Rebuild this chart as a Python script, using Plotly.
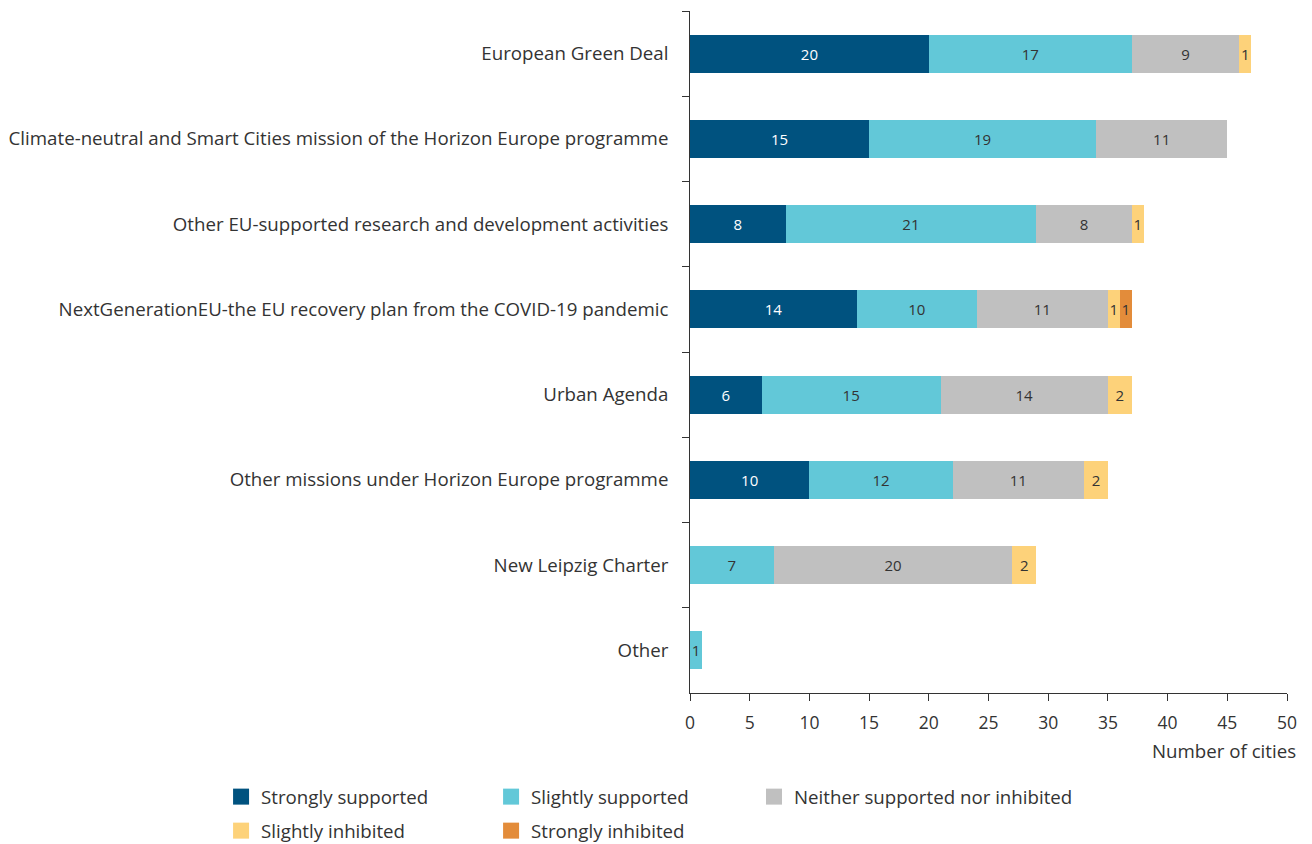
import plotly.graph_objects as go

categories = [
    "European Green Deal",
    "Climate-neutral and Smart Cities mission of the Horizon Europe programme",
    "Other EU-supported research and development activities",
    "NextGenerationEU-the EU recovery plan from the COVID-19 pandemic",
    "Urban Agenda",
    "Other missions under Horizon Europe programme",
    "New Leipzig Charter",
    "Other",
]
strongly_supported = [20, 15, 8, 14, 6, 10, None, None]
slightly_supported = [17, 19, 21, 10, 15, 12, 7, 1]
neither = [9, 11, 8, 11, 14, 11, 20, None]
slightly_inhibited = [1, None, 1, 1, 2, 2, 2, None]
strongly_inhibited = [None, None, None, 1, None, None, None, None]

series = [
    ("Strongly supported", strongly_supported, "#00527f", "white"),
    ("Slightly supported", slightly_supported, "#62c8d8", "#333333"),
    ("Neither supported nor inhibited", neither, "#c0c0c0", "#333333"),
    ("Slightly inhibited", slightly_inhibited, "#fdd27a", "#333333"),
    ("Strongly inhibited", strongly_inhibited, "#e38c3a", "#333333"),
]

FONT = "Open Sans"
TXT = "#333333"
# legend slot positions (container fractions): column x, row y
leg_x = [0.1624, 0.3682, 0.5686, 0.1624, 0.3682]
leg_y = [0.0652, 0.0652, 0.0652, 0.0249, 0.0249]

fig = go.Figure()
for name, vals, color, tcolor in series:
    fig.add_trace(go.Bar(
        y=categories, x=vals, name=name, orientation="h",
        marker=dict(color=color, line=dict(width=0)),
        text=[("" if v is None else str(v)) for v in vals],
        textposition="inside", insidetextanchor="middle", textangle=0,
        insidetextfont=dict(color=tcolor, size=15, family=FONT),
        cliponaxis=False, showlegend=False,
    ))

legend_layout = {}
for i, (name, vals, color, tcolor) in enumerate(series):
    lid = "legend" if i == 0 else f"legend{i + 1}"
    fig.add_trace(go.Scatter(
        x=[None], y=[None], mode="markers", name=name, legend=lid,
        marker=dict(symbol="square", size=16, color=color, line=dict(width=0)),
        showlegend=True,
    ))
    legend_layout[lid] = dict(
        xref="container", yref="container",
        x=leg_x[i], y=leg_y[i], xanchor="left", yanchor="middle",
        orientation="h", itemwidth=30, bgcolor="rgba(0,0,0,0)",
        font=dict(size=18.7, family=FONT, color=TXT),
    )

fig.update_layout(
    barmode="stack",
    bargap=0.554,
    width=1312, height=844,
    margin=dict(l=682, r=33, t=3, b=159),
    plot_bgcolor="white", paper_bgcolor="white",
    font=dict(family=FONT, size=18.7, color=TXT),
    uniformtext=dict(minsize=15, mode="show"),
    showlegend=True,
    xaxis=dict(
        range=[0, 50], dtick=5, showgrid=False, zeroline=False,
        showline=True, linecolor=TXT, linewidth=1, automargin=False,
        ticks="outside", ticklen=7, tickcolor=TXT, ticklabelstandoff=7,
        tickfont=dict(size=17.5, family=FONT, color=TXT),
    ),
    yaxis=dict(
        autorange="reversed", showgrid=False, zeroline=False,
        showline=True, linecolor=TXT, linewidth=1, automargin=False,
        ticks="outside", ticklen=7, tickcolor=TXT, tickson="boundaries",
        ticklabelstandoff=12,
        tickfont=dict(size=18.7, family=FONT, color=TXT),
        ticksuffix=" ",
    ),
    annotations=[dict(
        text="Number of cities", xref="paper", yref="paper",
        x=1.0184, y=-0.085, xanchor="right", yanchor="middle", showarrow=False,
        font=dict(size=18.7, family=FONT, color=TXT),
    )],
    **legend_layout,
)

fig.write_html("out.html")
